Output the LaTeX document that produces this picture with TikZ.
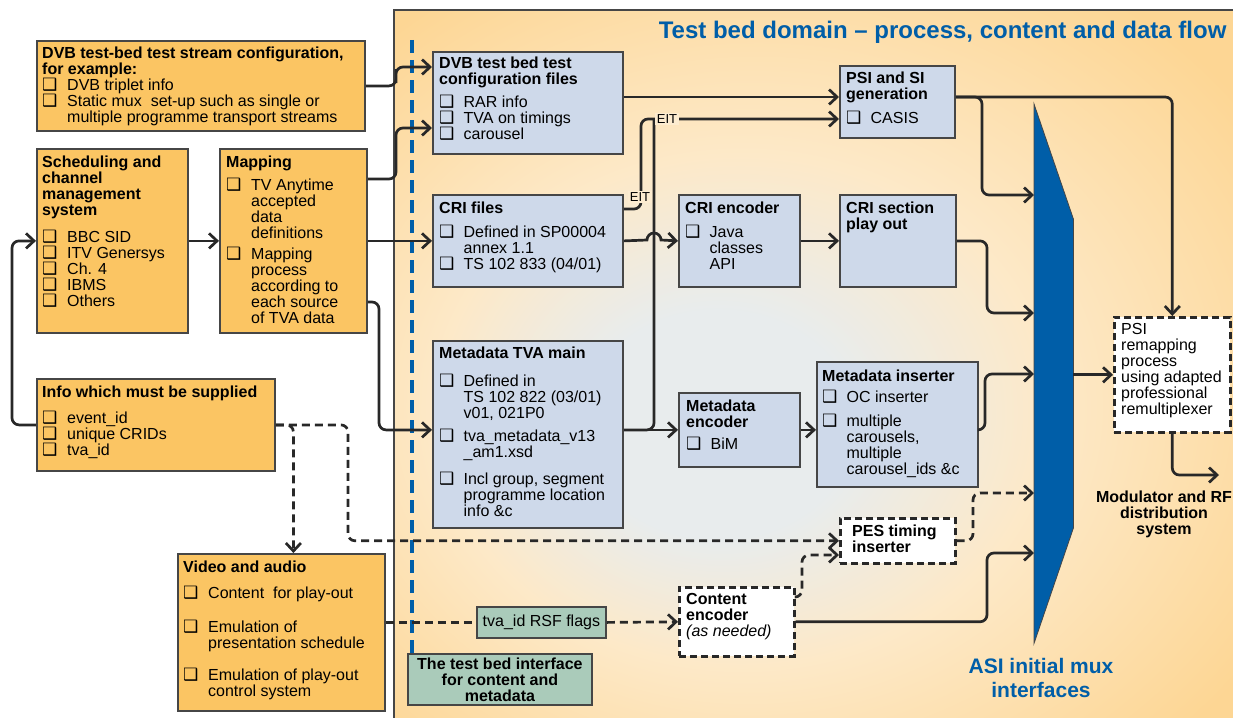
\documentclass[tikz,border=0pt]{standalone}
\usepackage{fontspec}
\setmainfont{Liberation Sans}
\newfontfamily\symfont{DejaVu Sans}
\usetikzlibrary{arrows.meta}

\definecolor{boxorange}{RGB}{251,197,99}
\definecolor{boxblue}{RGB}{206,217,234}
\definecolor{boxgreen}{RGB}{170,203,186}
\definecolor{tbblue}{RGB}{0,94,168}
\definecolor{linegray}{RGB}{40,40,40}
\definecolor{edgegray}{RGB}{70,70,70}
\definecolor{glowin}{RGB}{232,236,237}
\definecolor{glowmid}{RGB}{253,233,200}
\definecolor{glowout}{RGB}{253,214,148}
\definecolor{eitfill}{RGB}{253,236,208}

\pgfdeclareradialshading{domainglow}{\pgfpoint{-7bp}{-5bp}}{color(0bp)=(glowin); color(8bp)=(glowin); color(18bp)=(glowmid); color(34bp)=(glowout); color(50bp)=(glowout)}

% square bullets
\newcommand{\sqbul}{{\symfont\fontsize{17}{16}\selectfont ❑}}
\newcommand{\bitem}[1][25pt]{\makebox[#1][l]{\sqbul}}
\newcommand{\bcont}[1][25pt]{\hspace*{#1}}

\tikzset{
	obox/.style={draw=edgegray, line width=1.8pt, fill=boxorange, anchor=north west, inner sep=0pt},
	bbox/.style={draw=edgegray, line width=1.8pt, fill=boxblue, anchor=north west, inner sep=0pt},
	gbox/.style={draw=edgegray, line width=1.8pt, fill=boxgreen, anchor=north west, inner sep=0pt},
	wbox/.style={draw=linegray, line width=2.6pt, dash pattern=on 7pt off 4pt, fill=white, anchor=north west, inner sep=0pt},
	txt/.style={anchor=north west, inner sep=0pt, align=left, font=\fontsize{16}{16}\selectfont},
	conn/.style={draw=linegray, line width=2.7pt, rounded corners=7pt},
	arr/.style={-{Straight Barb[length=8pt,width=15pt]}},
	dline/.style={dash pattern=on 8pt off 5pt},
	eit/.style={fill=eitfill, inner sep=2pt, font=\fontsize{13}{13}\selectfont},
}

\begin{document}
\begin{tikzpicture}[x=1pt,y=-1pt]
	\useasboundingbox (0,0) rectangle (1233,717);
	% test bed domain
	\shade[shading=domainglow] (394,10) rectangle (1240,720);
	\draw[edgegray, line width=1.2pt] (394,720) -- (394,10) -- (1240,10);
	\node[anchor=base east, text=tbblue, font=\fontsize{24}{24}\selectfont\bfseries] (title) at (1230,38) {Test bed domain – process, content and data flow};
	\draw[tbblue, line width=4pt, dash pattern=on 13pt off 7pt] (412,40) -- (412,653);

	% boxes outside
	\node[obox, minimum width=328, minimum height=90] (cfg) at (36,40) {};
	\node[obox, minimum width=151, minimum height=184] (sched) at (36,148) {};
	\node[obox, minimum width=147, minimum height=184] (map) at (219,148) {};
	\node[obox, minimum width=238, minimum height=92] (info) at (36,378) {};
	\node[obox, minimum width=207, minimum height=157] (video) at (177,553) {};
	% boxes inside
	\node[bbox, minimum width=190, minimum height=102] (files) at (432,51) {};
	\node[bbox, minimum width=190, minimum height=92] (cri) at (432,194) {};
	\node[bbox, minimum width=190, minimum height=187] (tva) at (432,340) {};
	\node[bbox, minimum width=121, minimum height=92] (crienc) at (678,194) {};
	\node[bbox, minimum width=115, minimum height=72] (psi) at (839,65) {};
	\node[bbox, minimum width=116, minimum height=92] (crisec) at (839,194) {};
	\node[bbox, minimum width=121, minimum height=74] (menc) at (678,392) {};
	\node[bbox, minimum width=161, minimum height=125] (mins) at (816,361) {};
	\node[wbox, minimum width=115, minimum height=45] (pes) at (839,517) {};
	\node[wbox, minimum width=115, minimum height=69] (cenc) at (678,586) {};
	\node[wbox, minimum width=116, minimum height=115] (remap) at (1113,316) {};
	\node[gbox, minimum width=129, minimum height=31, font=\fontsize{16}{16}\selectfont] (flags) at (476,606) {tva\_id RSF flags};
	\node[gbox, minimum width=184, minimum height=51, align=center, font=\fontsize{16}{16}\selectfont\bfseries] (iface) at (407,653) {The test bed interface\\for content and\\metadata};

	% mux
	\node[anchor=north west, inner sep=0pt, minimum width=39, minimum height=539] (mux) at (1034,104) {};
	\fill[tbblue, draw=edgegray, line width=0.8pt] (mux.north west) -- (mux.east |- 0,219) -- (mux.east |- 0,528) -- (mux.south west) -- cycle;
	\node[text=tbblue, align=center, font=\fontsize{21}{24}\selectfont\bfseries] (asi) at (1041,678) {ASI initial mux\\interfaces};
	\node[align=center, font=\fontsize{16}{16}\selectfont\bfseries] (modrf) at (1164,514) {Modulator and RF\\distribution\\system};
	\coordinate (rfout) at (1219,475);

	% texts
	\node[txt] (cfg-t) at ([shift={(6,7)}]cfg.north west) {\textbf{DVB test-bed test stream configuration,}\\ \textbf{for example:}\\ \bitem DVB triplet info\\ \bitem Static mux~ set-up such as single or\\ \bcont multiple programme transport streams};
	\node[txt] (sched-t) at ([shift={(6,8)}]sched.north west) {\textbf{Scheduling and}\\ \textbf{channel}\\ \textbf{management}\\ \textbf{system}\\[11pt] \bitem BBC SID\\ \bitem ITV Genersys\\ \bitem Ch. 4\\ \bitem IBMS\\ \bitem Others};
	\node[txt] (map-t) at ([shift={(7,8)}]map.north west) {\textbf{Mapping}\\[7pt] \bitem TV Anytime\\ \bcont accepted\\ \bcont data\\ \bcont definitions\\[5pt] \bitem Mapping\\ \bcont process\\ \bcont according to\\ \bcont each source\\ \bcont of TVA data};
	\node[txt] (info-t) at ([shift={(6,8)}]info.north west) {\textbf{Info which must be supplied}\\[10pt] \bitem event\_id\\ \bitem unique CRIDs\\ \bitem tva\_id};
	\node[txt] (video-t) at ([shift={(6,8)}]video.north west) {\textbf{Video and audio}\\[10pt] \bitem Content~ for play-out\\[18pt] \bitem Emulation of\\ \bcont presentation schedule\\[16pt] \bitem Emulation of play-out\\ \bcont control system};
	\node[txt] (files-t) at ([shift={(7,6)}]files.north west) {\textbf{DVB test bed test}\\ \textbf{configuration files}\\[7pt] \bitem[20pt] RAR info\\ \bitem[20pt] TVA on timings\\ \bitem[20pt] carousel};
	\node[txt] (cri-t) at ([shift={(7,8)}]cri.north west) {\textbf{CRI files}\\[8pt] \bitem[20pt] Defined in SP00004\\ \bcont[20pt] annex 1.1\\ \bitem[20pt] TS 102 833 (04/01)};
	\node[txt] (tva-t) at ([shift={(7,7)}]tva.north west) {\textbf{Metadata TVA main}\\[12pt] \bitem[20pt] Defined in\\ \bcont[20pt] TS 102 822 (03/01)\\ \bcont[20pt] v01, 021P0\\[7pt] \bitem[20pt] tva\_metadata\_v13\\ \bcont[20pt] \_am1.xsd\\[11pt] \bitem[20pt] Incl group, segment\\ \bcont[20pt] programme location\\ \bcont[20pt] info \&c};
	\node[txt] (crienc-t) at ([shift={(7,8)}]crienc.north west) {\textbf{CRI encoder}\\[8pt] \bitem[20pt] Java\\ \bcont[20pt] classes\\ \bcont[20pt] API};
	\node[txt] (psi-t) at ([shift={(7,7)}]psi.north west) {\textbf{PSI and SI}\\ \textbf{generation}\\[8pt] \bitem[20pt] CASIS};
	\node[txt] (crisec-t) at ([shift={(7,8)}]crisec.north west) {\textbf{CRI section}\\ \textbf{play out}};
	\node[txt] (menc-t) at ([shift={(8,8)}]menc.north west) {\textbf{Metadata}\\ \textbf{encoder}\\[6pt] \bitem[20pt] BiM};
	\node[txt] (mins-t) at ([shift={(6,9)}]mins.north west) {\textbf{Metadata inserter}\\[5pt] \bitem[20pt] OC inserter\\[8pt] \bitem[20pt] multiple\\ \bcont[20pt] carousels,\\ \bcont[20pt] multiple\\ \bcont[20pt] carousel\_ids \&c};
	\node[txt] (pes-t) at ([shift={(13,8)}]pes.north west) {\textbf{PES timing}\\ \textbf{inserter}};
	\node[txt] (cenc-t) at ([shift={(8,7)}]cenc.north west) {\textbf{Content}\\ \textbf{encoder}\\ \textit{(as needed)}};
	\node[txt] (remap-t) at ([shift={(8,7)}]remap.north west) {PSI\\ remapping\\ process\\ using adapted\\ professional\\ remultiplexer};

	% connectors
	\draw[conn, arr] (cfg.east) -| (396,76) |- (files.west |- 0,67);
	\draw[conn, arr] (map.east |- 0,179) -| (396,150) |- (files.west |- 0,128);
	\draw[conn, arr] (map.east) -- (cri.west);
	\draw[conn, arr] (map.east |- 0,302) -| (379,380) |- (tva.west |- menc.west);
	\draw[conn, arr] (sched.east) -- (map.west);
	\draw[conn, arr] (info.west) -| (12,330) |- (sched.west);
	\draw[conn, arr, dline] (info.east) -| (348,480) |- (pes.west);
	\draw[conn, arr, dline] (info.east) -| ([xshift=12]video.north);
	\draw[conn, dline] (video.east |- flags.west) -- (flags.west);
	\draw[conn, arr, dline] (flags.east) -- (cenc.west);
	\draw[conn, arr, dline] (cenc.east |- 0,597) -| (802,570) |- (pes.west |- 0,555);
	\draw[conn, arr, dline] (pes.east) -| (973,510) |- (mux.west |- 0,493);
	\draw[conn, arr] (cenc.east) -| (987,580) |- (mux.west |- 0,553);
	\draw[conn, arr] (files.east |- 0,97) -- (psi.west |- 0,97);
	\draw[conn, arr] (cri.east |- 0,209) -| (641,119) -- (psi.west |- 0,119);
	\draw[conn] (tva.east |- menc.west) -| (654,119);
	\draw[conn, arr, sharp corners] (cri.east) -- (647,240) arc[start angle=180, end angle=0, radius=7pt] -- (crienc.west);
	\draw[conn, arr] (tva.east |- menc.west) -- (menc.west);
	\draw[conn, arr] (crienc.east) -- (crisec.west);
	\draw[conn, arr] (menc.east) -- (mins.west |- menc.east);
	\draw[conn, arr] (psi.east |- 0,97) -| (remap.north);
	\draw[conn, arr] (psi.east |- 0,97) -| (982,150) |- (mux.west |- 0,195);
	\draw[conn, arr] (crisec.east) -| (987,280) |- (mux.west |- 0,313);
	\draw[conn, arr] (mins.east |- menc.east) -| (985,400) |- (mux.west |- 0,374);
	\draw[conn, arr] (mux.east |- remap.west) -- (remap.west);
	\draw[conn, arr] (remap.south) |- (rfout);

	% EIT labels
	\node[eit] (eit1) at (667,119) {EIT};
	\node[eit] (eit2) at (640,197) {EIT};
\end{tikzpicture}
\end{document}
